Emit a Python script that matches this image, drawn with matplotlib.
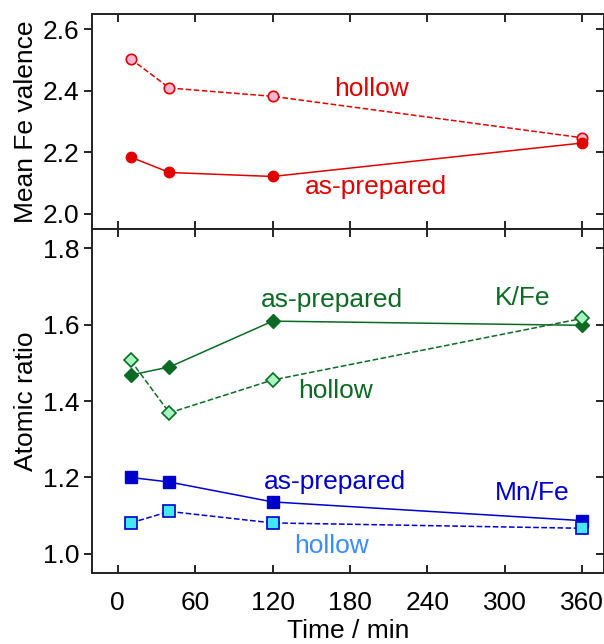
import matplotlib
matplotlib.use("Agg")
import matplotlib.pyplot as plt
from matplotlib.lines import TICKLEFT

plt.rcParams['font.family'] = ['Liberation Sans', 'DejaVu Sans']

time = [10, 40, 120, 360]
fe_val_prepared = [2.184, 2.134, 2.121, 2.230]
fe_val_hollow = [2.504, 2.409, 2.382, 2.247]
kfe_prepared = [1.468, 1.489, 1.609, 1.598]
kfe_hollow = [1.506, 1.369, 1.455, 1.616]
mnfe_prepared = [1.200, 1.188, 1.136, 1.087]
mnfe_hollow = [1.081, 1.111, 1.081, 1.067]
xticks = [0, 60, 120, 180, 240, 300, 360]

RED = '#e00000'
PINK = '#f2b6d2'
DGREEN = '#0b6a23'
LGREEN = '#a6f5c0'
BLUE = '#0000cc'
CYAN = '#48e6f5'
LBLUE = '#3a8cff'

fig = plt.figure(figsize=(6.04, 6.44), dpi=100)
left, right = 92/604, 603.5/604
top, mid, bot = 1-14/644, 1-229/644, 1-573/644
ax1 = fig.add_axes([left, mid, right-left, top-mid])
ax2 = fig.add_axes([left, bot, right-left, mid-bot])

lw = 1.1
ax1.plot(time, fe_val_hollow, ls='--', color=RED, lw=lw, marker='o', ms=7.5,
         mfc=PINK, mec=RED, mew=1.2, zorder=3)
ax1.plot(time, fe_val_prepared, ls='-', color=RED, lw=lw, marker='o', ms=7.5,
         mfc=RED, mec=RED, zorder=4)

ax2.plot(time, kfe_prepared, ls='-', color=DGREEN, lw=lw, marker='D', ms=7.5,
         mfc=DGREEN, mec=DGREEN, zorder=3)
ax2.plot(time, kfe_hollow, ls='--', color=DGREEN, lw=lw, marker='D', ms=7.5,
         mfc=LGREEN, mec=DGREEN, mew=1.2, zorder=4)
ax2.plot(time, mnfe_prepared, ls='-', color=BLUE, lw=lw, marker='s', ms=8,
         mfc=BLUE, mec=BLUE, zorder=3)
ax2.plot(time, mnfe_hollow, ls='--', color=BLUE, lw=lw, marker='s', ms=8,
         mfc=CYAN, mec=BLUE, mew=1.2, zorder=4)

fs_t = 19
ax1.text(197, 2.405, 'hollow', color=RED, fontsize=fs_t, ha='center', va='center')
ax1.text(200, 2.087, 'as-prepared', color=RED, fontsize=fs_t, ha='center', va='center')
ax2.text(166, 1.663, 'as-prepared', color=DGREEN, fontsize=fs_t, ha='center', va='center')
ax2.text(313.5, 1.670, 'K/Fe', color=DGREEN, fontsize=fs_t, ha='center', va='center')
ax2.text(169, 1.425, 'hollow', color=DGREEN, fontsize=fs_t, ha='center', va='center')
ax2.text(168, 1.187, 'as-prepared', color=BLUE, fontsize=fs_t, ha='center', va='center')
ax2.text(321, 1.158, 'Mn/Fe', color=BLUE, fontsize=fs_t, ha='center', va='center')
ax2.text(166, 1.02, 'hollow', color=LBLUE, fontsize=fs_t, ha='center', va='center')

for ax in (ax1, ax2):
    ax.set_xlim(-20, 376.5)
    ax.set_xticks(xticks)
    for s in ax.spines.values():
        s.set_linewidth(1.4)
        s.set_color('#222222')
    ax.tick_params(axis='x', direction='in', top=True, bottom=True, length=6,
                   width=1.2, labelsize=19)
    ax.tick_params(axis='y', direction='out', left=True, right=True, length=6,
                   width=1.2, labelsize=19, pad=3)

ax1.set_ylim(1.95, 2.65)
ax1.set_yticks([2.0, 2.2, 2.4, 2.6])
ax1.set_yticklabels(['2.0', '2.2', '2.4', '2.6'])
ax1.tick_params(axis='x', labelbottom=False)
ax2.set_ylim(0.95, 1.85)
ax2.set_yticks([1.0, 1.2, 1.4, 1.6, 1.8])
ax2.set_yticklabels(['1.0', '1.2', '1.4', '1.6', '1.8'])
ax2.set_xticklabels([str(v) for v in xticks])
ax2.tick_params(axis='x', pad=13)

for ax in (ax1, ax2):
    for t in ax.yaxis.get_major_ticks():
        t.tick2line.set_marker(TICKLEFT)

ax1.set_ylabel('Mean Fe valence', fontsize=19)
ax2.set_ylabel('Atomic ratio', fontsize=19)
ax1.yaxis.set_label_coords(-0.105, 0.5)
ax2.yaxis.set_label_coords(-0.105, 0.5)
ax2.set_xlabel('Time / min', fontsize=19)
ax2.xaxis.set_label_coords(0.5, -0.1337)

fig.savefig('out.png', dpi=100)
